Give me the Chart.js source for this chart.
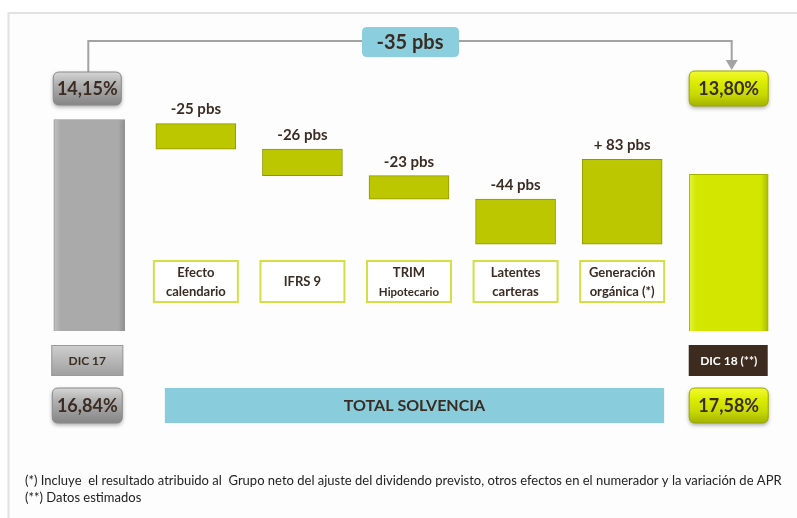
<!DOCTYPE html>
<html>
<head>
<meta charset="utf-8">
<script src="https://cdn.jsdelivr.net/npm/chart.js@4"></script>
<style>
html, body { margin: 0; padding: 0; background: #ffffff; }
#wrap { position: relative; width: 797px; height: 518px; }
</style>
</head>
<body>
<div id="wrap"><canvas id="myChart" width="797" height="518"></canvas></div>
<script>
// categories of the bridge, first and last are the totals
const categories = [['DIC 17'], ['Efecto', 'calendario'], ['IFRS 9'], ['TRIM', 'Hipotecario'], ['Latentes', 'carteras'], ['Generación', 'orgánica (*)'], ['DIC 18 (**)']];
// CET1 (phased in) in pbs at start and end
const startBps = 1415;
const endBps = 1380;
const totalChange = -35;
// impact of each step, pbs
const deltas = [-25, -26, -23, -44, 83];
// ratios shown in the boxes
const cet1Ratio = [14.15, 13.80];
const totalSolvencia = [16.84, 17.58];
const footnotes = [
    '(*) Incluye  el resultado atribuido al  Grupo neto del ajuste del dividendo previsto, otros efectos en el numerador y la variación de APR',
    '(**) Datos estimados'
];

const ink = '#3a2c22';
const fontFam = 'Lato, "Open Sans", sans-serif';

// running levels for the floating step bars
const steps = [null];
let level = startBps;
deltas.forEach(d => {
    steps.push([level, level + d]);
    level += d;
});
steps.push(null);

const startData = categories.map((c, i) => i === 0 ? startBps : null);
const endData = categories.map((c, i) => i === categories.length - 1 ? endBps : null);

const fmtPct = v => v.toFixed(2).replace('.', ',') + '%';
const fmtPbs = v => (v > 0 ? '+ ' + v : '' + v) + ' pbs';

function rr(ctx, x, y, w, h, r) {
    ctx.beginPath();
    ctx.moveTo(x + r, y);
    ctx.lineTo(x + w - r, y);
    ctx.quadraticCurveTo(x + w, y, x + w, y + r);
    ctx.lineTo(x + w, y + h - r);
    ctx.quadraticCurveTo(x + w, y + h, x + w - r, y + h);
    ctx.lineTo(x + r, y + h);
    ctx.quadraticCurveTo(x, y + h, x, y + h - r);
    ctx.lineTo(x, y + r);
    ctx.quadraticCurveTo(x, y, x + r, y);
    ctx.closePath();
}

function pill(ctx, cx, y, w, h, stops, border, text, textColor, font) {
    const x = cx - w / 2;
    const g = ctx.createLinearGradient(0, y, 0, y + h);
    stops.forEach((c, i) => g.addColorStop(i / (stops.length - 1), c));
    ctx.save();
    ctx.shadowColor = 'rgba(0,0,0,0.35)';
    ctx.shadowBlur = 4;
    ctx.shadowOffsetY = 2;
    rr(ctx, x, y, w, h, 6);
    ctx.fillStyle = g;
    ctx.fill();
    ctx.restore();
    rr(ctx, x, y, w, h, 6);
    ctx.strokeStyle = border;
    ctx.lineWidth = 1;
    ctx.stroke();
    ctx.fillStyle = textColor;
    ctx.font = font;
    ctx.textAlign = 'center';
    ctx.textBaseline = 'middle';
    ctx.fillText(text, cx, y + h / 2 + 1);
}

function barGradient(c, idx, half, colors) {
    const ch = c.chart;
    if (!ch.chartArea) return colors[1];
    const x = ch.scales.x.getPixelForValue(idx);
    const g = ch.ctx.createLinearGradient(x - half, 0, x + half, 0);
    g.addColorStop(0, colors[0]);
    g.addColorStop(0.1, colors[1]);
    g.addColorStop(0.9, colors[1]);
    g.addColorStop(1, colors[2]);
    return g;
}

const decor = {
    id: 'decor',
    beforeDraw(chart) {
        const ctx = chart.ctx;
        const xs = chart.scales.x;
        ctx.save();
        ctx.fillStyle = '#fdfdfd';
        ctx.fillRect(8, 13, chart.width - 8, chart.height - 13);
        ctx.strokeStyle = '#e2e2e2';
        ctx.lineWidth = 2;
        ctx.beginPath();
        ctx.moveTo(8.5, chart.height);
        ctx.lineTo(8.5, 13);
        ctx.lineTo(chart.width, 13);
        ctx.stroke();

        // connector between the two ratios
        const lx = xs.getPixelForValue(0) - 1;
        const rx = xs.getPixelForValue(categories.length - 1) + 3;
        ctx.strokeStyle = '#a3a3a3';
        ctx.lineWidth = 2;
        ctx.beginPath();
        ctx.moveTo(lx, 72);
        ctx.lineTo(lx, 41);
        ctx.lineTo(rx, 41);
        ctx.lineTo(rx, 61);
        ctx.stroke();
        ctx.fillStyle = '#a3a3a3';
        ctx.beginPath();
        ctx.moveTo(rx - 6, 60);
        ctx.lineTo(rx + 6, 60);
        ctx.lineTo(rx, 70);
        ctx.closePath();
        ctx.fill();

        // change box
        const mx = (lx + rx) / 2;
        rr(ctx, mx - 48, 27, 97, 30, 5);
        ctx.fillStyle = '#8bcedd';
        ctx.fill();
        ctx.fillStyle = ink;
        ctx.font = 'bold 20px ' + fontFam;
        ctx.textAlign = 'center';
        ctx.textBaseline = 'middle';
        ctx.fillText(fmtPbs(totalChange), mx, 43);

        // category boxes
        for (let i = 1; i < categories.length - 1; i++) {
            const cx = xs.getPixelForValue(i);
            ctx.fillStyle = '#ffffff';
            ctx.fillRect(cx - 42, 261, 84, 41);
            ctx.strokeStyle = '#d2df45';
            ctx.lineWidth = 2;
            ctx.strokeRect(cx - 42, 261, 84, 41);
            const lines = categories[i];
            ctx.fillStyle = ink;
            ctx.textAlign = 'center';
            ctx.textBaseline = 'middle';
            if (lines.length === 1) {
                ctx.font = 'bold 13px ' + fontFam;
                ctx.fillText(lines[0], cx, 282);
            } else {
                ctx.font = 'bold 13px ' + fontFam;
                ctx.fillText(lines[0], cx, 273);
                ctx.font = (i === 3 ? 'bold 11.5px ' : 'bold 13px ') + fontFam;
                ctx.fillText(lines[1], cx, 292);
            }
        }

        // total solvencia band
        const tx0 = xs.getPixelForValue(1) - 31;
        const tx1 = xs.getPixelForValue(categories.length - 2) + 42;
        ctx.fillStyle = '#89cddc';
        ctx.fillRect(tx0, 388, tx1 - tx0, 35);
        ctx.fillStyle = ink;
        ctx.font = 'bold 16px ' + fontFam;
        ctx.fillText('TOTAL SOLVENCIA', (tx0 + tx1) / 2, 406);
        ctx.restore();
    },
    afterDraw(chart) {
        const ctx = chart.ctx;
        const xs = chart.scales.x;
        const last = categories.length - 1;
        const x0 = xs.getPixelForValue(0);
        const x1 = xs.getPixelForValue(last);
        const grey = ['#d6d6d6', '#b3b3b3', '#9c9c9c', '#858585'];
        const lime = ['#f2fa30', '#dbec00', '#c8da00', '#a4b300'];
        ctx.save();

        // step labels
        const meta = chart.getDatasetMeta(2);
        meta.data.forEach((el, i) => {
            if (steps[i] == null) return;
            const top = Math.min(el.y, el.base);
            ctx.fillStyle = ink;
            ctx.font = 'bold 15px ' + fontFam;
            ctx.textAlign = 'center';
            ctx.textBaseline = 'middle';
            ctx.fillText(fmtPbs(deltas[i - 1]), el.x, top - 14);
        });

        // ratio boxes
        pill(ctx, x0 - 2, 72, 68, 33, grey, '#8a8a8a', fmtPct(cet1Ratio[0]), ink, 'bold 18px ' + fontFam);
        pill(ctx, x1, 71, 79, 35, lime, '#9aa600', fmtPct(cet1Ratio[1]), ink, 'bold 18px ' + fontFam);
        pill(ctx, x0 - 2, 388, 70, 35, grey, '#8a8a8a', fmtPct(totalSolvencia[0]), ink, 'bold 18px ' + fontFam);
        pill(ctx, x1, 388, 79, 35, lime, '#9aa600', fmtPct(totalSolvencia[1]), ink, 'bold 18px ' + fontFam);

        // period labels
        let g = ctx.createLinearGradient(0, 345, 0, 376);
        g.addColorStop(0, '#cfcfcf');
        g.addColorStop(1, '#9e9e9e');
        ctx.fillStyle = g;
        ctx.fillRect(x0 - 38, 345, 72, 31);
        ctx.strokeStyle = '#9a9a9a';
        ctx.lineWidth = 1;
        ctx.strokeRect(x0 - 38 + 0.5, 345.5, 71, 30);
        ctx.fillStyle = ink;
        ctx.font = 'bold 12px ' + fontFam;
        ctx.textAlign = 'center';
        ctx.textBaseline = 'middle';
        ctx.fillText(categories[0][0], x0 - 2, 361);

        ctx.fillStyle = '#3e2b1f';
        ctx.fillRect(x1 - 40, 345, 79, 31);
        ctx.fillStyle = '#ffffff';
        ctx.fillText(categories[last][0], x1, 361);

        // footnotes
        ctx.fillStyle = '#222222';
        ctx.font = '13px ' + fontFam;
        ctx.textAlign = 'left';
        ctx.textBaseline = 'middle';
        ctx.fillText(footnotes[0], 25, 481, 771);
        ctx.fillText(footnotes[1], 25, 498);
        ctx.restore();
    }
};

const ctxEl = document.getElementById('myChart');

new Chart(ctxEl, {
    type: 'bar',
    data: {
        labels: categories,
        datasets: [{
            label: 'DIC 17',
            data: startData,
            yAxisID: 'y',
            grouped: false,
            barThickness: 71,
            backgroundColor: c => barGradient(c, 0, 36, ['#c4c4c4', '#aaaaaa', '#8d8d8d']),
            borderColor: '#939393',
            borderWidth: 1
        },
        {
            label: 'DIC 18',
            data: endData,
            yAxisID: 'y',
            grouped: false,
            barThickness: 79,
            backgroundColor: c => barGradient(c, categories.length - 1, 40, ['#e6f43a', '#d3e600', '#a9b800']),
            borderColor: '#a6b200',
            borderWidth: 1
        },
        {
            label: 'Variación',
            data: steps,
            yAxisID: 'y2',
            grouped: false,
            barThickness: 80,
            backgroundColor: '#bdc700',
            borderColor: '#8e9700',
            borderWidth: 1,
            borderSkipped: false
        }]
    },
    options: {
        responsive: false,
        animation: false,
        events: [],
        layout: {
            padding: { left: 36, right: 15, top: 96, bottom: 187 }
        },
        plugins: {
            legend: { display: false },
            tooltip: { enabled: false },
            title: { display: false }
        },
        scales: {
            x: { type: 'category', display: false, grid: { display: false } },
            y: { display: false, min: 1280, max: 1430 },
            y2: { display: false, min: 1212, max: 1442 }
        }
    },
    plugins: [decor]
});
</script>
</body>
</html>
